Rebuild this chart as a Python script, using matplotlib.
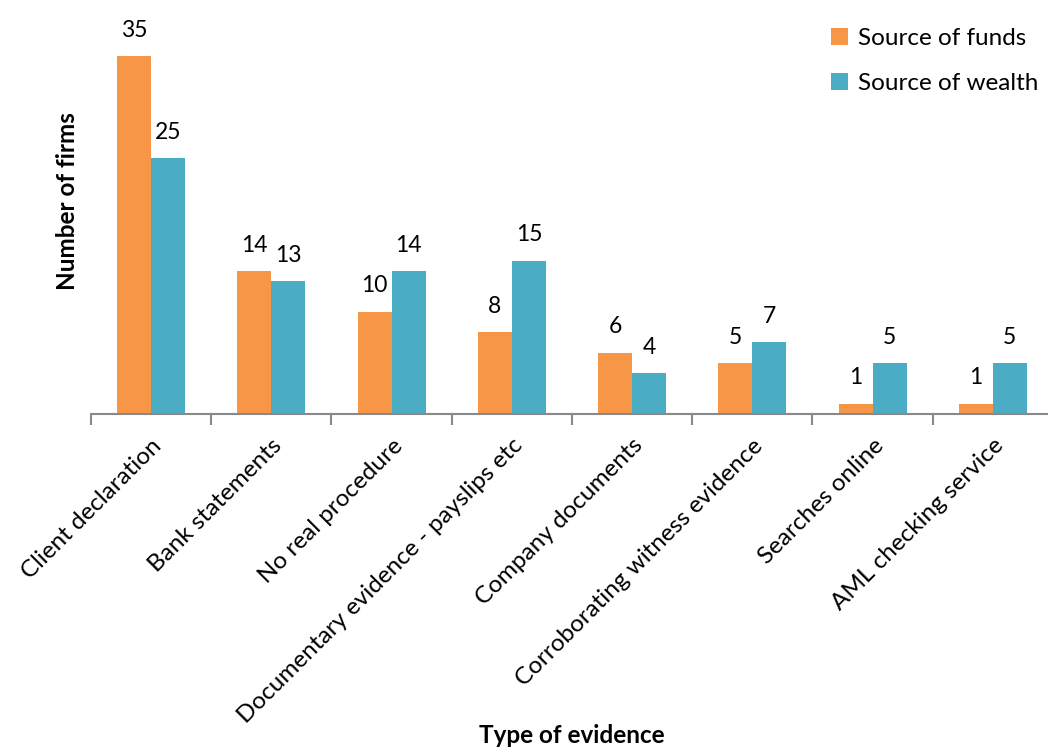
import matplotlib.pyplot as plt
import numpy as np

categories = ["Client declaration", "Bank statements", "No real procedure",
              "Documentary evidence - payslips etc", "Company documents",
              "Corroborating witness evidence", "Searches online",
              "AML checking service"]
source_of_funds = [35, 14, 10, 8, 6, 5, 1, 1]
source_of_wealth = [25, 13, 14, 15, 4, 7, 5, 5]

orange = '#F79646'
blue = '#4BACC6'
axis_grey = '#898989'

plt.rcParams['font.family'] = ['Lato', 'DejaVu Sans']

fig = plt.figure(figsize=(10.48, 7.47), dpi=100)
ax = fig.add_axes([91 / 1048, 333 / 747, 962 / 1048, 409 / 747])

x = np.arange(len(categories))
w = 0.283
b1 = ax.bar(x - w / 2, source_of_funds, w, color=orange, label='Source of funds')
b2 = ax.bar(x + w / 2, source_of_wealth, w, color=blue, label='Source of wealth')

for bars, vals in ((b1, source_of_funds), (b2, source_of_wealth)):
    for r, v in zip(bars, vals):
        ax.text(r.get_x() + r.get_width() / 2, v + 1.5, str(v),
                ha='center', va='bottom', fontsize=16.5)

ax.set_xlim(-0.5, len(categories) - 0.5)
ax.set_ylim(0, 40)

for s in ['top', 'right', 'left']:
    ax.spines[s].set_visible(False)
ax.spines['bottom'].set_color(axis_grey)
ax.spines['bottom'].set_linewidth(1.5)
ax.set_yticks([])

# category boundaries get the tick marks, labels sit on the centres
ax.set_xticks(np.arange(-0.5, len(categories), 1.0), minor=True)
ax.tick_params(axis='x', which='minor', length=8, width=1.5, color=axis_grey)
ax.set_xticks(x)
ax.set_xticklabels(categories, rotation=45, ha='right', va='top',
                   rotation_mode='anchor', fontsize=17.5)
ax.tick_params(axis='x', which='major', length=0, pad=15)

ax.set_ylabel('Number of firms', fontsize=17.5, fontweight='bold')
ax.yaxis.set_label_coords(-0.012, 0.52)
fig.text(0.546, 0.0, 'Type of evidence', ha='center', va='bottom',
         fontsize=17.5, fontweight='bold')

ax.legend(loc='upper right', bbox_to_anchor=(1060 / 1048, 741 / 747),
          bbox_transform=fig.transFigure, frameon=False, fontsize=17.5,
          handlelength=0.7, handleheight=0.7, handletextpad=0.4,
          labelspacing=1.0)

fig.savefig('out.png', dpi=100)
